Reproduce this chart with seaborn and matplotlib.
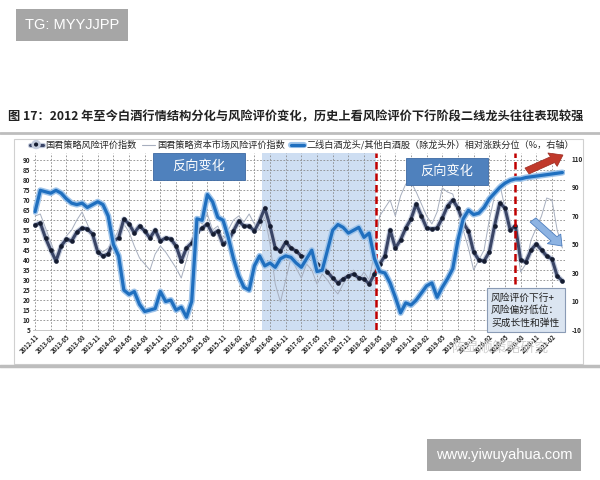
import numpy as np
import pandas as pd
import matplotlib
matplotlib.use('Agg')
import matplotlib.pyplot as plt
import matplotlib.patheffects as pe
from matplotlib.lines import Line2D
from matplotlib.patches import Rectangle, FancyArrow
import seaborn as sns

# Monthly data, 2012-11 onwards
months = pd.date_range('2012-11-01', periods=102, freq='MS')

# 国君策略风险评价指数 (left axis)
risk_index = [57.5, 58.5, 51, 45, 39.5, 47, 50.5, 49.5, 54, 56,
              55.5, 53, 44, 42, 43, 49.5, 51, 60.5, 58, 53.5,
              57, 54.5, 51, 55, 49.5, 51, 50.5, 47, 39.5, 46,
              48.5, 54, 56, 58, 53, 54.5, 48, 49.5, 54.5, 59.5,
              57, 57, 54.5, 59.5, 66, 57, 46, 44.5, 49, 46,
              44.5, 42, 41, 43, 38, 36.5, 34, 31, 28.5, 30.5,
              32, 33, 31, 30.5, 28, 33, 38, 42, 55, 46,
              50, 56, 60.5, 68, 62, 56, 55.5, 56, 61, 67,
              70, 66, 58.5, 54.5, 44, 40, 39.5, 44, 57, 68.5,
              66, 55, 57, 40, 39, 45, 48, 45, 42, 40.5,
              32, 29.5]

# 国君策略资本市场风险评价指数 (left axis)
capital_risk_index = [62, 63, 56, 49, 42, 44, 52, 55, 60, 64,
                      58, 52, 46, 44, 46, 50, 55, 58, 54, 47,
                      41, 38, 35, 43, 47, 44, 40, 36, 31, 40,
                      50, 60, 58, 63, 55, 57, 50, 55, 60, 62,
                      59, 63, 58, 55, 62, 48, 28, 19, 30, 41,
                      36, 31, 38, 35, 28, 33, 30, 26, 23, 28,
                      32, 35, 30, 34, 30, 44, 62, 66, 70, 62,
                      72, 78, 79, 74, 68, 62, 58, 64, 76, 74,
                      73, 64, 55, 46, 35, 40, 45, 60, 72, 78,
                      66, 58, 54, 34, 38, 50, 56, 62, 71, 70,
                      55, 46]

# 二线白酒龙头/其他白酒股相对涨跌分位 (right axis, %)
relative_pct = [73, 88, 87, 86, 88, 86, 82, 79, 78, 79,
                76, 78, 80, 78, 70, 50, 42, 18, 15, 17,
                8, 3, 4, 5, 17, 10, 11, 4, 6, -1,
                10, 68, 67, 85, 80, 69, 67, 55, 40, 28,
                20, 18, 35, 42, 35, 37, 34, 40, 42, 41,
                37, 34, 40, 46, 31, 32, 46, 60, 64, 62,
                58, 60, 62, 55, 58, 40, 31, 30, 23, 13,
                2, 9, 7.5, 11, 16, 21, 23, 13, 20, 26,
                33, 53, 68, 74, 71, 72, 76, 82, 86, 90,
                93, 95, 96, 96, 97, 97.5, 98, 98.5, 99, 99.5,
                100, 100.5]

tick_labels = months[::3].strftime('%Y-%m').tolist()
label_risk = '国君策略风险评价指数'
label_capital = '国君策略资本市场风险评价指数'
label_rel = '二线白酒龙头/其他白酒股（除龙头外）相对涨跌分位（%，右轴）'

df = pd.DataFrame({'idx': np.arange(len(months)),
                   'risk': risk_index,
                   'capital': capital_risk_index,
                   'rel': relative_pct})

sns.set_theme(style='white')
plt.rcParams['font.family'] = ['Noto Sans CJK SC', 'DejaVu Sans']
plt.rcParams['axes.unicode_minus'] = False

W, H = 600, 480
fig = plt.figure(figsize=(6, 4.8), dpi=100)


def fx(x):
    return x / W


def fy(y):
    return 1 - y / H


# page decorations
fig.add_artist(Line2D([0, 1], [fy(133), fy(133)], color='#bdbdbd', lw=2))
fig.add_artist(Line2D([0, 1], [fy(366), fy(366)], color='#bdbdbd', lw=2.5))
fig.add_artist(Rectangle((fx(14), fy(364)), fx(583) - fx(14), fy(139) - fy(364),
                         fill=False, edgecolor='#d0d0d0', lw=0.8))
fig.text(fx(8), fy(117), '图 17：2012 年至今白酒行情结构分化与风险评价变化，历史上看风险评价下行阶段二线龙头往往表现较强',
         fontsize=8.8, weight='bold', va='center', ha='left', color='#222222')
fig.text(fx(72), fy(25), 'TG: MYYJJPP', fontsize=10.5, color='white', ha='center', va='center',
         family=['Liberation Sans', 'DejaVu Sans'],
         bbox=dict(boxstyle='square,pad=0.6', fc='#a6a6a6', ec='none'))
fig.text(fx(504), fy(455), 'www.yiwuyahua.com', fontsize=10.5, color='white', ha='center', va='center',
         family=['Liberation Sans', 'DejaVu Sans'],
         bbox=dict(boxstyle='square,pad=0.6', fc='#a6a6a6', ec='none'))

# axes
ax = fig.add_axes([fx(33), fy(330), fx(565) - fx(33), fy(153) - fy(330)])
ax2 = ax.twinx()

ax.axvspan(43.5, 65.3, color='#c6d9f0', alpha=0.85, lw=0, zorder=0)

glow_navy = [pe.Stroke(linewidth=3.8, foreground='#c3cbdc'), pe.Normal()]
glow_blue = [pe.Stroke(linewidth=4.4, foreground='#9fc4ea'), pe.Normal()]

sns.lineplot(data=df, x='idx', y='capital', ax=ax, color='#a7afbf', lw=0.7, zorder=2)
sns.lineplot(data=df, x='idx', y='risk', ax=ax, color='#3a4566', lw=2.2, zorder=3,
             path_effects=glow_navy)
sns.scatterplot(data=df, x='idx', y='risk', ax=ax, color='#151c30', s=11, linewidth=0, zorder=3.5)
sns.lineplot(data=df, x='idx', y='rel', ax=ax2, color='#1f6fbf', lw=2.3, zorder=4,
             path_effects=glow_blue)

for xv in (65.3, 92):
    ax.axvline(xv, color='#c00000', ls=(0, (3, 1.6)), lw=1.8, zorder=5)

ax.set_xlim(-0.4, 101.5)
ax.set_ylim(5, 93.5)
ax2.set_ylim(-10, 114.2)
ax.set_yticks(np.arange(5, 91, 5))
ax2.set_yticks(np.arange(-10, 111, 20))
ax.set_xticks(df['idx'][::3])
ax.set_xticklabels(tick_labels, rotation=45, ha='right', va='top',
                   rotation_mode='anchor', fontsize=4.3, weight='bold')
ax.tick_params(axis='y', labelsize=4.6, pad=2, length=0)
ax.tick_params(axis='x', pad=2, length=0)
ax2.tick_params(axis='y', labelsize=4.6, pad=5, length=0)
for lab in ax.get_yticklabels() + ax2.get_yticklabels():
    lab.set_fontweight('bold')
ax.set_xlabel('')
ax.set_ylabel('')
ax2.set_ylabel('')
ax.grid(True, color='#8a8a8a', ls=(0, (2, 2)), lw=0.6)
ax.set_axisbelow(True)
for a in (ax, ax2):
    for s in a.spines.values():
        s.set_visible(False)
ax.spines['bottom'].set_visible(True)
ax.spines['bottom'].set_color('#bfbfbf')
ax.spines['bottom'].set_linewidth(0.6)
ax.set_facecolor('none')
ax2.set_facecolor('none')
ax.set_zorder(1)
ax2.set_zorder(2)

# legend
handles = [
    Line2D([], [], color='#3a4566', lw=2.2, marker='o', markersize=3,
           markerfacecolor='#151c30', markeredgewidth=0, path_effects=glow_navy),
    Line2D([], [], color='#a7afbf', lw=0.8),
    Line2D([], [], color='#1f6fbf', lw=2.3, path_effects=glow_blue),
]
fig.legend(handles, [label_risk, label_capital, label_rel], loc='center left',
           bbox_to_anchor=(fx(26), fy(145)), ncol=3, frameon=False, fontsize=6.6,
           handlelength=1.4, handletextpad=0.3, columnspacing=0.6, borderaxespad=0)

# annotation boxes
for (x0, y0, x1, y1) in [(153, 153, 245, 180), (406, 158, 488, 185)]:
    fig.add_artist(Rectangle((fx(x0), fy(y1)), fx(x1) - fx(x0), fy(y0) - fy(y1),
                             fc='#4f81bd', ec='#3d6aa3', lw=0.6, zorder=10))
    fig.text(fx((x0 + x1) / 2), fy((y0 + y1) / 2), '反向变化', color='white', fontsize=9.5,
             ha='center', va='center', zorder=11)

fig.add_artist(Rectangle((fx(487), fy(332)), fx(565) - fx(487), fy(288) - fy(332),
                         fc='#dbe5f1', ec='#8a9bb5', lw=0.8, zorder=10))
fig.text(fx(491), fy(310), '风险评价下行+\n风险偏好低位：\n买成长性和弹性', color='#222222',
         fontsize=7.0, ha='left', va='center', linespacing=1.3, zorder=11)

fig.add_artist(FancyArrow(fx(527), fy(171), fx(563) - fx(527), fy(155) - fy(171),
                          width=0.014, head_width=0.032, head_length=0.02,
                          length_includes_head=True, fc='#c0392b', ec='#9b2a20', lw=0.5, zorder=12))
fig.add_artist(FancyArrow(fx(533), fy(220), fx(562) - fx(533), fy(246) - fy(220),
                          width=0.013, head_width=0.03, head_length=0.02,
                          length_includes_head=True, fc='#8db3e2', ec='#4f7fbf', lw=0.6, zorder=12))

# watermark
fig.text(fx(452), fy(348), '陈显顺策略研究', color='#cccccc', fontsize=10, ha='left',
         va='center', alpha=0.9, zorder=12)

fig.savefig('out.png', dpi=100)
